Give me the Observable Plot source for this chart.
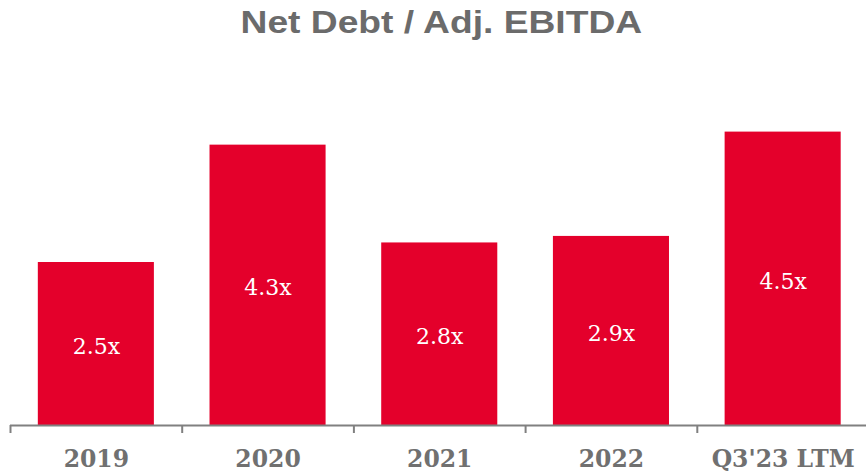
<!DOCTYPE html>
<html>
<head>
<meta charset="utf-8">
<script src="https://cdn.jsdelivr.net/npm/d3@7"></script>
<script src="https://cdn.jsdelivr.net/npm/@observablehq/plot@0.6"></script>
<style>
  body { margin: 0; background: #fff; }
  #title {
    height: 45px;
    line-height: 45px;
    padding-left: 16px;
    text-align: center;
    font: bold 31px "Liberation Sans", Arial, sans-serif;
    color: #6b6b6b;
  }
  #title span { display: inline-block; position: relative; top: 5px; transform: scaleX(1.2); }
</style>
</head>
<body>
<div id="title"><span>Net Debt / Adj. EBITDA</span></div>
<div id="chart"></div>
<script>
// Net debt to adjusted EBITDA leverage by period
const periods = ["2019", "2020", "2021", "2022", "Q3'23 LTM"];
const leverage = [2.5, 4.3, 2.8, 2.9, 4.5];

const data = periods.map((period, i) => ({period, value: leverage[i]}));

const xRange = [10, 868.5];
const step = (xRange[1] - xRange[0]) / periods.length;
const axisGray = "#808080";

const chart = Plot.plot({
  width: 866,
  height: 430,
  marginLeft: 10,
  marginRight: 0,
  marginTop: 54,
  marginBottom: 50,
  x: {domain: periods, range: xRange, paddingInner: 0.324, paddingOuter: 0.162, round: false},
  y: {domain: [0, 5], axis: null},
  marks: [
    Plot.barY(data, {x: "period", y: "value", fill: "#E4002B"}),
    Plot.text(data, {
      x: "period",
      y: d => d.value / 2,
      text: d => d.value.toFixed(1) + "x",
      fill: "white",
      fontSize: 22,
      fontFamily: "DejaVu Serif",
      dy: 3
    }),
    Plot.ruleY([0], {stroke: axisGray, strokeWidth: 2}),
    // category separators hanging below the baseline
    Plot.ruleX(periods, {
      x: d => d,
      y1: () => 0,
      y2: () => 0,
      insetBottom: -8,
      dx: -step / 2,
      stroke: axisGray,
      strokeWidth: 2
    }),
    Plot.axisX({
      tickSize: 0,
      tickPadding: 25,
      fontSize: 23.5,
      fontWeight: "bold",
      fontFamily: "DejaVu Serif",
      color: "#707070",
      label: null
    })
  ]
});

document.getElementById("chart").append(chart);
</script>
</body>
</html>
